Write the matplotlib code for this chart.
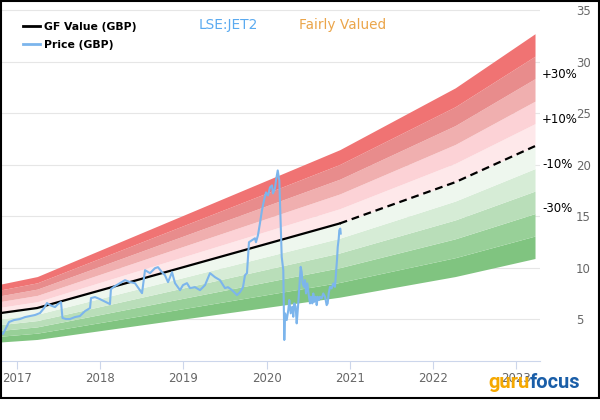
import numpy as np
import matplotlib.pyplot as plt
from matplotlib.lines import Line2D
from matplotlib.patches import Rectangle

# GF Value (GBP): knots, after index 2 it is the projection
gf_dates = [2016.79, 2017.24, 2020.88, 2022.27, 2023.23]
gf_values = [5.6, 6.1, 14.3, 18.3, 21.8]
gf_split = 2

# Price (GBP)
price_dates = [
    2016.792, 2016.828, 2016.864, 2016.900, 2016.960, 2017.032, 2017.093, 2017.153,
    2017.213, 2017.273, 2017.322, 2017.357, 2017.394, 2017.454, 2017.490, 2017.526,
    2017.544, 2017.586, 2017.634, 2017.694, 2017.754, 2017.815, 2017.875, 2017.887,
    2017.935, 2017.995, 2018.067, 2018.115, 2018.127, 2018.175, 2018.236, 2018.296,
    2018.356, 2018.416, 2018.501, 2018.537, 2018.597, 2018.657, 2018.693, 2018.741,
    2018.777, 2018.814, 2018.862, 2018.898, 2018.958, 2018.994, 2019.042, 2019.078,
    2019.138, 2019.199, 2019.259, 2019.319, 2019.379, 2019.439, 2019.499, 2019.535,
    2019.584, 2019.620, 2019.644, 2019.680, 2019.716, 2019.740, 2019.764, 2019.788,
    2019.824, 2019.860, 2019.872, 2019.896, 2019.920, 2019.944, 2019.969, 2019.993,
    2020.017, 2020.041, 2020.065, 2020.077, 2020.101, 2020.113, 2020.134, 2020.153,
    2020.182, 2020.201, 2020.213, 2020.222, 2020.242, 2020.261, 2020.273, 2020.290,
    2020.309, 2020.321, 2020.333, 2020.350, 2020.362, 2020.369, 2020.381, 2020.410,
    2020.422, 2020.434, 2020.450, 2020.462, 2020.474, 2020.490, 2020.510, 2020.522,
    2020.534, 2020.550, 2020.562, 2020.574, 2020.591, 2020.603, 2020.615, 2020.630,
    2020.642, 2020.663, 2020.682, 2020.703, 2020.723, 2020.735, 2020.747, 2020.763,
    2020.783, 2020.803, 2020.823, 2020.835, 2020.847, 2020.856, 2020.868, 2020.875,
    2020.887, 2020.892,
]
price_values = [
    3.77, 3.58, 4.16, 4.74, 4.93, 5.03, 5.22, 5.32,
    5.42, 5.61, 6.09, 6.58, 6.38, 6.19, 6.48, 6.67,
    5.13, 5.03, 5.03, 5.22, 5.32, 5.80, 6.09, 7.06,
    7.16, 6.96, 6.67, 6.48, 7.93, 8.22, 8.51, 8.80,
    8.61, 8.51, 7.54, 9.77, 9.48, 9.96, 10.06, 9.57,
    9.28, 8.61, 9.57, 8.51, 7.83, 8.32, 8.51, 8.03,
    8.12, 7.83, 8.32, 9.48, 9.09, 8.80, 8.03, 8.12,
    7.83, 7.54, 7.35, 7.64, 8.12, 9.28, 9.48, 12.48,
    12.67, 12.86, 12.48, 13.15, 14.31, 15.57, 16.54, 17.31,
    17.02, 17.80, 17.99, 17.21, 17.70, 18.47, 19.44, 18.47,
    11.05, 9.77, 3.00, 5.58, 4.93, 5.90, 6.87, 5.58,
    6.22, 5.25, 6.55, 6.22, 4.61, 5.25, 6.55, 10.09,
    9.60, 8.48, 8.15, 8.80, 7.51, 8.48, 7.19, 6.55,
    7.19, 6.55, 7.51, 6.70, 7.19, 6.38, 7.19, 6.87,
    7.19, 7.03, 7.51, 7.19, 6.38, 6.55, 7.51, 8.15,
    8.00, 8.48, 8.15, 9.45, 10.74, 12.02, 12.83, 13.64,
    13.80, 13.32,
]

band_factors = [0.5, 0.6, 0.7, 0.8, 0.9, 1.0, 1.1, 1.2, 1.3, 1.4, 1.5]
band_colors = ['#80c480', '#98d098', '#b9deb9', '#d6ecd6', '#eef7ee',
               '#fee8ea', '#fcd2d6', '#f0afaf', '#e88c8c', '#f07373']
pct_labels = ['+30%', '+10%', '-10%', '-30%']
pct_factors = [1.3, 1.1, 0.9, 0.7]
year_ticks = [2017, 2018, 2019, 2020, 2021, 2022, 2023]
y_ticks = [5, 10, 15, 20, 25, 30, 35]

fig = plt.figure(figsize=(6, 4.2), dpi=100)
ax = fig.add_axes([0, 59 / 420, 540 / 600, 361 / 420])

gf_d = np.array(gf_dates)
gf_v = np.array(gf_values)
for i in range(len(band_colors)):
    ax.fill_between(gf_d, gf_v * band_factors[i], gf_v * band_factors[i + 1],
                    color=band_colors[i], lw=0, zorder=1)

ax.plot(gf_d[:gf_split + 1], gf_v[:gf_split + 1], color='black', lw=1.6, zorder=3)
ax.plot(gf_d[gf_split:], gf_v[gf_split:], color='black', lw=1.6, ls=(0, (3.5, 2.2)), zorder=3)
ax.plot(price_dates, price_values, color='#7cb5ec', lw=1.5, zorder=4)

ax.set_xlim(2016.792, 2023.29)
ax.set_ylim(0.96, 35.97)
ax.set_xticks(year_ticks)
ax.set_xticklabels([str(y) for y in year_ticks])
ax.set_yticks(y_ticks)
ax.yaxis.tick_right()
ax.tick_params(axis='y', length=0, pad=26, labelcolor='#666666', labelsize=8.5)
ax.tick_params(axis='x', length=6, width=0.8, color='#ccd6eb', pad=2,
               labelcolor='#666666', labelsize=8.5)
ax.grid(axis='y', color='#e6e6e6', lw=0.8)
ax.set_axisbelow(True)
for s in ['top', 'left', 'right']:
    ax.spines[s].set_visible(False)
ax.spines['bottom'].set_color('#ccd6eb')
ax.spines['bottom'].set_linewidth(0.8)

for lab, f in zip(pct_labels, pct_factors):
    ax.annotate(lab, xy=(1.0, gf_values[-1] * f), xycoords=('axes fraction', 'data'),
                xytext=(1.5, 3.3), textcoords='offset points', va='center', ha='left',
                fontsize=8.5, color='black', annotation_clip=False)

handles = [Line2D([], [], color='black', lw=2), Line2D([], [], color='#7cb5ec', lw=2)]
ax.legend(handles, ['GF Value (GBP)', 'Price (GBP)'], loc='upper left',
          bbox_to_anchor=(23 / 540, 1 - 22 / 361), frameon=False, borderaxespad=0,
          borderpad=0, handlelength=1.55, handletextpad=0.4, labelspacing=0.75,
          prop=dict(weight='bold', size=7.8))

fig.text(228 / 600, 1 - 25 / 420, 'LSE:JET2', color='#5aaaf0', fontsize=9.9,
         ha='center', va='center')
fig.text(343 / 600, 1 - 25 / 420, 'Fairly Valued', color='#eba54a', fontsize=9.8,
         ha='center', va='center')

logo_font = ['Roboto', 'DejaVu Sans']
fig.text(530 / 600, 1 - 388 / 420, 'guru', color='#f5a800', fontsize=14.5, weight='bold',
         family=logo_font, ha='right', va='baseline')
fig.text(530 / 600, 1 - 388 / 420, 'focus', color='#1a5ea8', fontsize=14.5, weight='bold',
         family=logo_font, ha='left', va='baseline')

fig.patches.append(Rectangle((0.5 / 600, 1 - 398 / 420), 598 / 600, 397 / 420,
                             transform=fig.transFigure, fill=False,
                             edgecolor='black', lw=1.5))

fig.savefig('out.png', dpi=100)
